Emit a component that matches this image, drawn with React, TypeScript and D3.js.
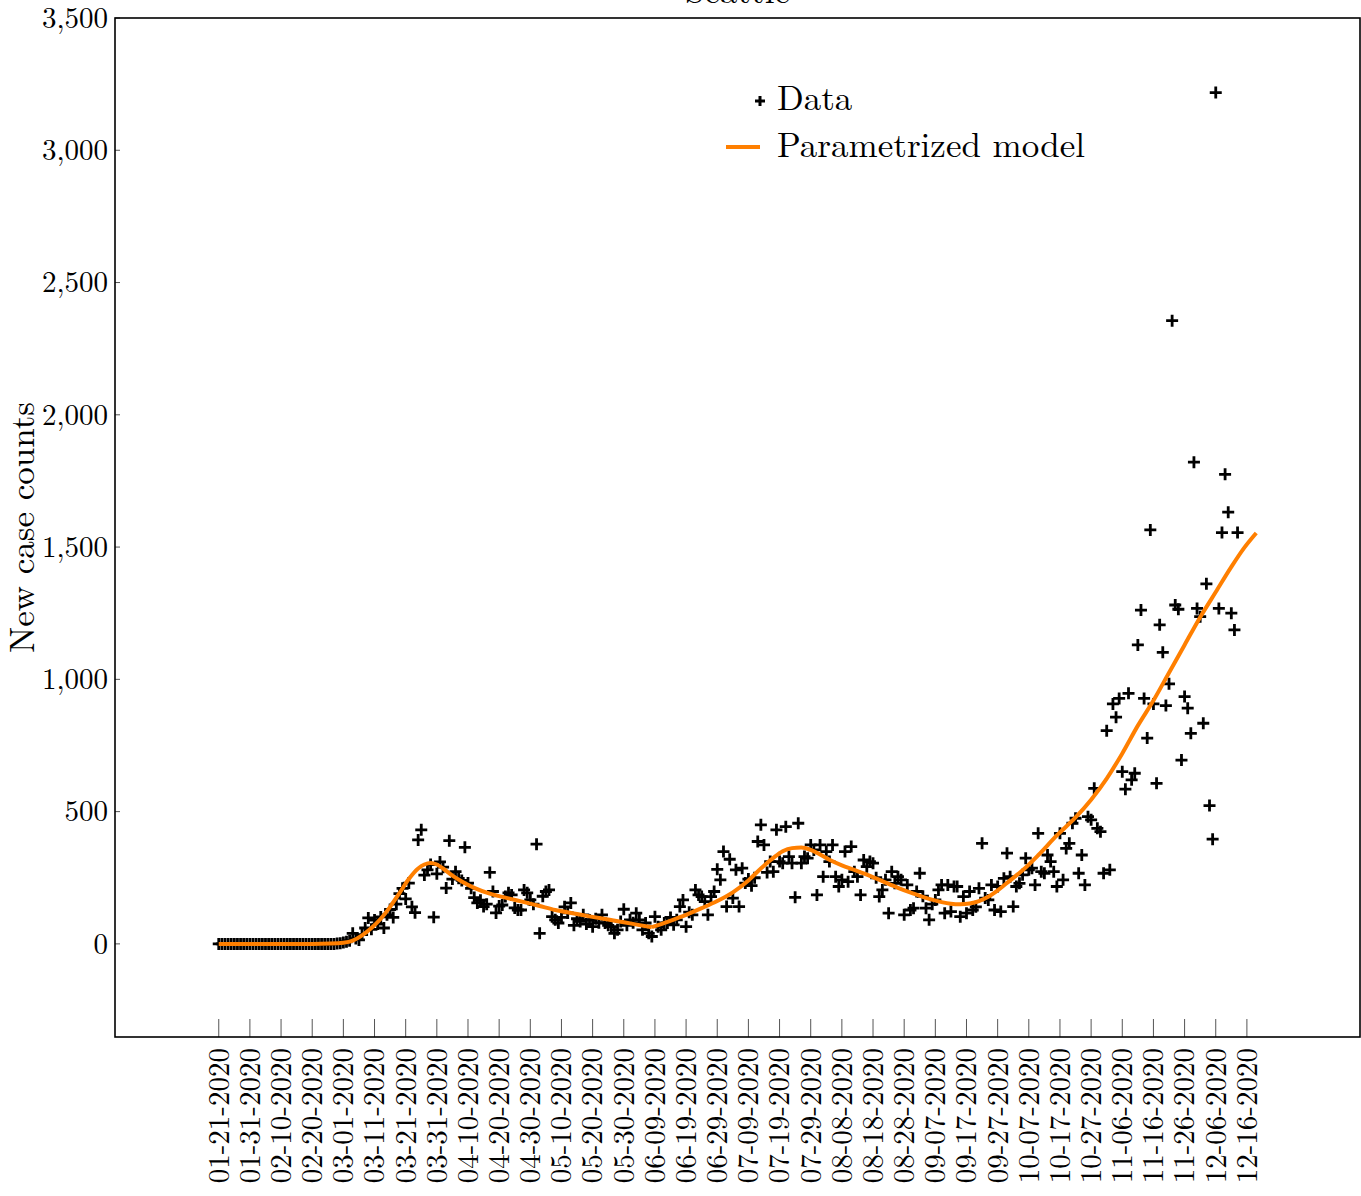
import React from 'react';
import * as d3 from 'd3';

const W = 1361;
const H = 1196;
const M = { left: 115, right: 1360, top: 18, bottom: 1037 };

// x tick labels, one every 10 days starting at 01-21-2020 (day 0)
const tickLabels = [
  '01-21-2020', '01-31-2020', '02-10-2020', '02-20-2020', '03-01-2020', '03-11-2020',
  '03-21-2020', '03-31-2020', '04-10-2020', '04-20-2020', '04-30-2020', '05-10-2020',
  '05-20-2020', '05-30-2020', '06-09-2020', '06-19-2020', '06-29-2020', '07-09-2020',
  '07-19-2020', '07-29-2020', '08-08-2020', '08-18-2020', '08-28-2020', '09-07-2020',
  '09-17-2020', '09-27-2020', '10-07-2020', '10-17-2020', '10-27-2020', '11-06-2020',
  '11-16-2020', '11-26-2020', '12-06-2020', '12-16-2020',
];
const tickStep = 10;

const yTicks = [0, 500, 1000, 1500, 2000, 2500, 3000, 3500];

// Daily new cases, day 0 = 01-21-2020
const newCases = [
  0, 0, 0, 0, 0, 0, 0, 0, 0, 0,
  0, 0, 0, 0, 0, 0, 0, 0, 0, 0,
  0, 0, 0, 0, 0, 0, 0, 0, 0, 0,
  0, 0, 0, 0, 0, 0, 0, 0, 1, 2,
  5, 8, 12, 40, 20, 15, 35, 60, 98, 55,
  90, 75, 102, 60, 110, 130, 100, 150, 190, 210,
  170, 230, 140, 118, 393, 431, 260, 280, 300, 101,
  265, 310, 290, 211, 390, 245, 273, 248, 240, 365,
  230, 210, 175, 155, 165, 141, 150, 270, 198, 117,
  143, 147, 179, 193, 185, 136, 128, 128, 204, 193,
  166, 150, 377, 40, 180, 198, 204, 103, 91, 79,
  100, 140, 117, 155, 70, 95, 85, 110, 75, 90,
  65, 95, 80, 110, 79, 70, 65, 40, 53, 85,
  131, 70, 91, 80, 116, 91, 53, 79, 40, 28,
  103, 65, 53, 79, 79, 100, 72, 91, 141, 166,
  65, 120, 110, 204, 185, 179, 160, 110, 179, 198,
  282, 242, 349, 141, 320, 173, 280, 141, 286, 230,
  245, 220, 250, 387, 450, 374, 270, 311, 273, 431,
  311, 305, 443, 330, 305, 176, 456, 305, 330, 324,
  374, 355, 185, 374, 254, 349, 311, 374, 254, 217,
  242, 349, 235, 368, 273, 254, 185, 317, 292, 311,
  305, 250, 179, 204, 242, 116, 273, 229, 254, 242,
  110, 223, 128, 135, 198, 267, 180, 135, 91, 150,
  166, 204, 223, 116, 223, 122, 217, 217, 103, 179,
  116, 198, 128, 140, 210, 380, 173, 166, 223, 128,
  217, 122, 248, 343, 254, 141, 217, 229, 261, 324,
  280, 286, 223, 418, 273, 267, 336, 311, 273, 217,
  418, 242, 361, 380, 456, 475, 267, 336, 223, 481,
  469, 588, 437, 424, 267, 806, 280, 907, 857, 928,
  651, 585, 947, 620, 645, 1130, 1262, 928, 778, 1565,
  907, 607, 1206, 1102, 901, 983, 2356, 1281, 1265, 695,
  935, 891, 796, 1821, 1268, 1237, 834, 1361, 523, 396,
  3218, 1268, 1555, 1775, 1632, 1250, 1187, 1555,
];

// Fitted model, sampled at these days
const modelDays = [
  0, 10, 20, 30, 36, 40, 43, 46, 49, 52, 55, 58, 61, 64, 66, 68, 70, 72, 75, 78,
  82, 87, 93, 98, 103, 108, 114, 119, 125, 130, 135, 139,
  142, 146, 150, 155, 160, 165, 170, 174, 178, 181, 184, 187, 190, 193, 196, 200,
  204, 208, 213, 218, 223, 228, 232, 235, 238, 241, 244, 247, 250, 254, 258, 263,
  269, 275, 280, 285, 290, 295, 300, 305, 310, 315, 320, 325, 329, 333,
];
const modelValues = [
  0, 0, 0, 0, 1, 4, 12, 32, 60, 95, 140, 192, 245, 285, 300, 306, 300, 285, 258, 236,
  212, 190, 172, 158, 143, 128, 115, 104, 92, 82, 71, 63,
  75, 92, 110, 135, 162, 195, 240, 285, 325, 350, 362, 364, 355, 338, 318, 297,
  280, 262, 237, 212, 190, 170, 158, 152, 150, 153, 162, 178, 202, 240, 278, 335,
  410, 478, 545, 625, 720, 825, 920, 1025, 1130, 1235, 1330, 1425, 1495, 1553,
];
// the model switches regime at this day
const modelBreakDay = 139;

const FONT = '"Latin Modern Roman", "CMU Serif", "Liberation Serif", serif';
const ORANGE = '#ff7f00';

const crossPath = (s: number) => `M${-s},0H${s}M0,${-s}V${s}`;

export default function App() {
  const x = d3.scaleLinear().domain([-33.3, 366.3]).range([M.left, M.right]);
  const y = d3.scaleLinear().domain([-352, 3500]).range([M.bottom, M.top]);
  const fmt = d3.format(',');

  const model = modelDays.map((d, i) => ({ d, v: modelValues[i] }));
  const line = d3
    .line<{ d: number; v: number }>()
    .x((p) => x(p.d))
    .y((p) => y(p.v))
    .curve(d3.curveMonotoneX);
  const modelA = line(model.filter((p) => p.d <= modelBreakDay)) || '';
  const modelB = line(model.filter((p) => p.d >= modelBreakDay)) || '';

  return (
    <svg
      width={W}
      height={H}
      style={{ position: 'absolute', left: 0, top: 0, background: '#fff' }}
      fontFamily={FONT}
    >
      <rect x={0} y={0} width={W} height={H} fill="#fff" />

      {/* title */}
      <text x={(M.left + M.right) / 2} y={3} textAnchor="middle" fontSize={35}>
        Seattle
      </text>

      {/* x ticks */}
      {tickLabels.map((lab, i) => {
        const tx = x(i * tickStep);
        return (
          <g key={lab}>
            <line x1={tx} x2={tx} y1={M.bottom} y2={M.bottom - 18} stroke="#555" strokeWidth={1} />
            <text
              transform={`translate(${tx},${1048}) rotate(-90)`}
              textAnchor="end"
              dy="0.34em"
              fontSize={29}
            >
              {lab}
            </text>
          </g>
        );
      })}

      {/* y ticks */}
      {yTicks.map((t) => (
        <g key={t}>
          <line x1={M.left} x2={M.left + 5} y1={y(t)} y2={y(t)} stroke="#555" strokeWidth={1} />
          <text x={108} y={y(t)} dy="0.34em" textAnchor="end" fontSize={29}>
            {fmt(t)}
          </text>
        </g>
      ))}

      {/* y axis label */}
      <text
        transform={`translate(34,${(M.top + M.bottom) / 2}) rotate(-90)`}
        textAnchor="middle"
        fontSize={35}
      >
        New case counts
      </text>

      {/* data points */}
      <g stroke="#000" strokeWidth={2.8} fill="none">
        {newCases.map((v, i) => (
          <path key={i} d={crossPath(6)} transform={`translate(${x(i)},${y(v)})`} />
        ))}
      </g>

      {/* model */}
      <g fill="none" stroke={ORANGE} strokeWidth={4} strokeLinejoin="round">
        <path d={modelA} />
        <path d={modelB} />
      </g>

      {/* frame */}
      <rect
        x={M.left}
        y={M.top}
        width={M.right - M.left}
        height={M.bottom - M.top}
        fill="none"
        stroke="#000"
        strokeWidth={1.6}
      />

      {/* legend */}
      <g>
        <path d={crossPath(5)} transform="translate(760,101)" stroke="#000" strokeWidth={3} />
        <text x={777} y={110} fontSize={35}>
          Data
        </text>
        <line x1={726} x2={760} y1={147} y2={147} stroke={ORANGE} strokeWidth={4} />
        <text x={777} y={157} fontSize={35}>
          Parametrized model
        </text>
      </g>
    </svg>
  );
}
